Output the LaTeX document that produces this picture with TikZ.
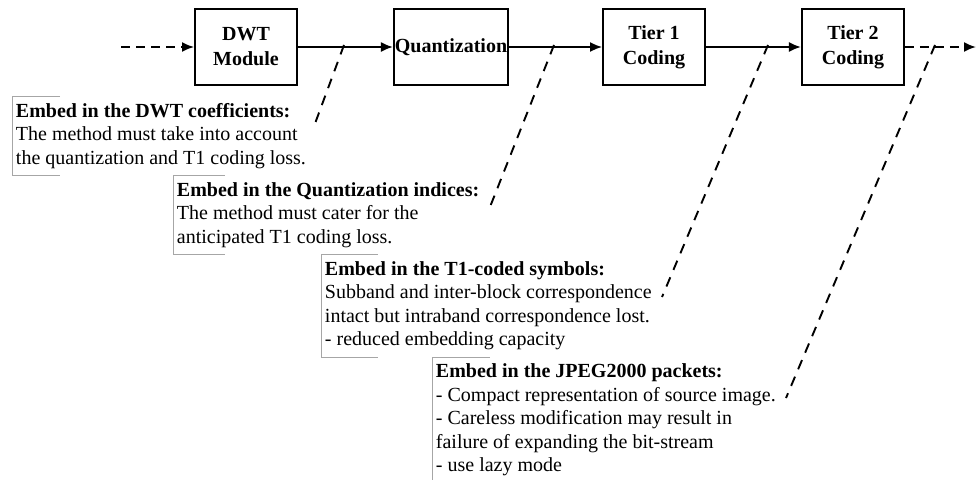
\documentclass[tikz,border=0pt]{standalone}
\usepackage{fontspec}
\setmainfont{Liberation Serif}
\usetikzlibrary{arrows.meta,positioning}

\begin{document}
\begin{tikzpicture}[x=1pt, y=-1pt, >={Latex[length=12pt,width=10pt]}, line width=1.9pt]
	\tikzstyle{stage}=[draw, align=center, inner xsep=1pt,
		minimum width=102pt, minimum height=76pt,
		font=\fontsize{20}{25}\selectfont\bfseries]
	\tikzstyle{note}=[align=left, inner xsep=3pt, inner ysep=6pt,
		font=\fontsize{20}{23.5}\selectfont]
	\tikzstyle{bracket}=[draw=gray!70, line width=0.8pt]
	\tikzstyle{hint}=[dash pattern=on 10pt off 8pt]
	\tikzstyle{feed}=[dash pattern=on 9pt off 6pt]
	\useasboundingbox (0,0) rectangle (976,479);
	% % Nodes
	% coding chain
	\node[stage] (dwt) at (246,47) {DWT\\Module};
	\node[stage, right=95pt of dwt] (quant) {Quantization};
	\node[stage, right=93pt of quant] (tierone) {Tier 1\\Coding};
	\node[stage, right=95pt of tierone] (tiertwo) {Tier 2\\Coding};
	% notes
	\node[note, anchor=north west] (dwtnote) at (12,96)
	{
		\textbf{Embed in the DWT coefficients:}\\
		The method must take into account\\
		the quantization and T1 coding loss.
	};
	\node[note, below right=0pt and 161pt of dwtnote.south west] (quantnote)
	{
		\textbf{Embed in the Quantization indices:}\\
		The method must cater for the\\
		anticipated T1 coding loss.
	};
	\node[note, below right=0pt and 148pt of quantnote.south west] (tieronenote)
	{
		\textbf{Embed in the T1-coded symbols:}\\
		Subband and inter-block correspondence\\
		intact but intraband correspondence lost.\\
		- reduced embedding capacity
	};
	\node[note, below right=0pt and 111pt of tieronenote.south west] (tiertwonote)
	{
		\textbf{Embed in the JPEG2000 packets:}\\
		- Compact representation of source image.\\
		- Careless modification may result in\\
		failure of expanding the bit-stream\\
		- use lazy mode
	};
	% note brackets
	\draw[bracket] ([xshift=48pt]dwtnote.north west) -- (dwtnote.north west)
		-- (dwtnote.south west) -- ([xshift=48pt]dwtnote.south west);
	\draw[bracket] ([xshift=52pt]quantnote.north west) -- (quantnote.north west)
		-- (quantnote.south west) -- ([xshift=52pt]quantnote.south west);
	\draw[bracket] ([xshift=57pt]tieronenote.north west) -- (tieronenote.north west)
		-- (tieronenote.south west) -- ([xshift=57pt]tieronenote.south west);
	\draw[bracket] ([xshift=58pt]tiertwonote.north west) -- (tiertwonote.north west)
		-- (tiertwonote.south west);
	% free ends
	\coordinate (src) at (121,47);
	\coordinate (sink) at (976,47);
	\coordinate (tap1) at (344,45);
	\coordinate (tap2) at (554,45);
	\coordinate (tap3) at (768,45);
	\coordinate (tap4) at (935,45);
	\coordinate (end1) at (313,129);
	\coordinate (end2) at (488,212);
	\coordinate (end3) at (662,297);
	\coordinate (end4) at (786,398);
	% % Connectors
	\draw[feed, ->] (src) -- (dwt);
	\draw[->] (dwt) -- (quant);
	\draw[->] (quant) -- (tierone);
	\draw[->] (tierone) -- (tiertwo);
	\draw[feed, ->] (tiertwo) -- (sink);
	\draw[hint] (tap1) -- (end1);
	\draw[hint] (tap2) -- (end2);
	\draw[hint] (tap3) -- (end3);
	\draw[hint] (tap4) -- (end4);
\end{tikzpicture}
\end{document}
